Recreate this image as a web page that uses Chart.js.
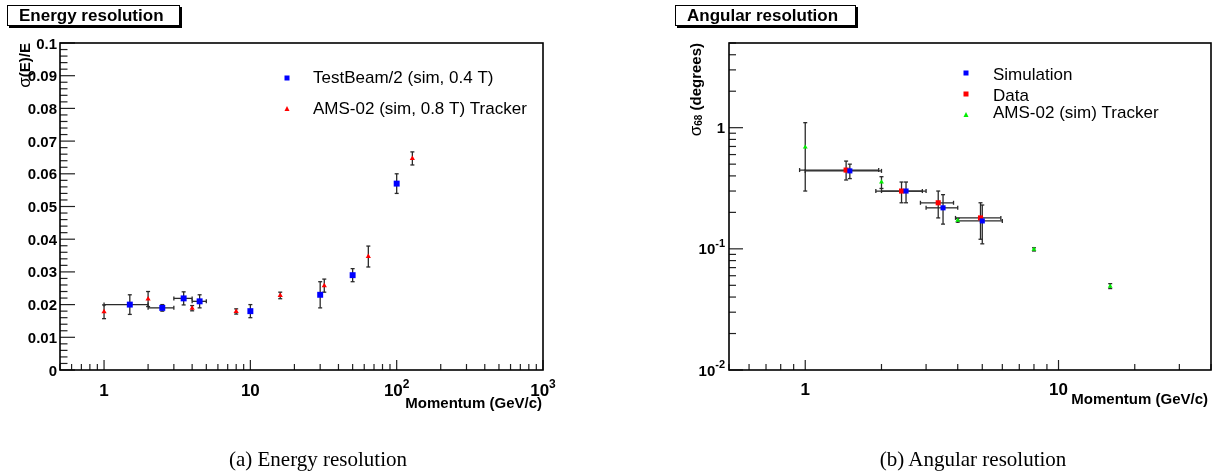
<!DOCTYPE html>
<html>
<head>
<meta charset="utf-8">
<script src="https://cdn.jsdelivr.net/npm/chart.js@4/dist/chart.umd.min.js"></script>
<style>
    body { margin: 0; background: #fff; width: 1215px; height: 474px; overflow: hidden; position: relative; }
    canvas { position: absolute; top: 0; }
    #energy-chart { left: 0; }
    #angular-chart { left: 607px; }
    .caption {
        position: absolute; top: 449px; line-height: 21px;
        font-family: 'Liberation Serif', 'Times New Roman', serif; font-size: 21px;
        color: #000; white-space: nowrap; transform: translateX(-50%);
    }
</style>
</head>
<body>
<canvas id="energy-chart" width="607" height="474"></canvas>
<canvas id="angular-chart" width="608" height="474"></canvas>
<div class="caption" style="left:318px">(a) Energy resolution</div>
<div class="caption" style="left:973px">(b) Angular resolution</div>
<script>
// Energy resolution: TestBeam/2 (sim, 0.4 T)
const energyTbX    = [1.5, 2.5, 3.5, 4.5, 10, 30, 50, 100];
const energyTbY    = [0.0200, 0.0190, 0.0219, 0.0210, 0.0180, 0.0230, 0.0290, 0.0570];
const energyTbErr  = [0.0030, 0.0010, 0.0020, 0.0020, 0.0020, 0.0040, 0.0020, 0.0030];
const energyTbXErr = [0.5, 0.5, 0.5, 0.5, 0, 0, 0, 0];

// Energy resolution: AMS-02 (sim, 0.8 T) Tracker
const energyAmsX   = [1, 2, 4, 8, 16, 32, 64, 128];
const energyAmsY   = [0.0178, 0.0217, 0.0189, 0.0179, 0.0228, 0.0258, 0.0347, 0.0647];
const energyAmsErr = [0.0021, 0.0023, 0.0008, 0.0008, 0.0010, 0.0020, 0.0032, 0.0020];

const energyXTicks  = [1, 10, 100, 1000];
const energyXLabels = ['1', '10', '10^2', '10^3'];
const energyYTicks  = [0, 0.01, 0.02, 0.03, 0.04, 0.05, 0.06, 0.07, 0.08, 0.09, 0.1];
const energyYLabels = ['0', '0.01', '0.02', '0.03', '0.04', '0.05', '0.06', '0.07', '0.08', '0.09', '0.1'];
const energyLegend  = ['TestBeam/2 (sim, 0.4 T)', 'AMS-02 (sim, 0.8 T) Tracker'];

// Angular resolution: Simulation
const angSimX    = [1.5, 2.5, 3.5, 5.0];
const angSimY    = [0.44, 0.30, 0.218, 0.17];
const angSimLo   = [0.38, 0.24, 0.16, 0.11];
const angSimHi   = [0.50, 0.356, 0.28, 0.23];
const angSimXErr = [0.5, 0.5, 0.5, 1.0];

// Angular resolution: Data
const angDataX    = [1.45, 2.4, 3.35, 4.92];
const angDataY    = [0.447, 0.30, 0.24, 0.18];
const angDataLo   = [0.37, 0.24, 0.18, 0.12];
const angDataHi   = [0.53, 0.356, 0.30, 0.24];
const angDataXErr = [0.5, 0.5, 0.5, 1.0];

// Angular resolution: AMS-02 (sim) Tracker
const angAmsX  = [1, 2, 4, 8, 16];
const angAmsY  = [0.69, 0.356, 0.172, 0.099, 0.049];
const angAmsLo = [0.30, 0.315, 0.166, 0.096, 0.047];
const angAmsHi = [1.10, 0.394, 0.178, 0.102, 0.0516];

const angXTicks  = [1, 10];
const angXLabels = ['1', '10'];
const angYTicks  = [0.01, 0.1, 1];
const angYLabels = ['10^-2', '10^-1', '1'];
const angLegend  = ['Simulation', 'Data', 'AMS-02 (sim) Tracker'];

const SANS = "'Liberation Sans', Arial, Helvetica, sans-serif";
const BLUE = '#0000ff', RED = '#ff0000', GREEN = '#00ee00';

const points = (xs, ys) => xs.map((x, i) => ({ x, y: ys[i] }));

function drawMarker(ctx, style, x, y, size, color) {
    ctx.fillStyle = color;
    if (style === 'rect') {
        ctx.fillRect(x - size / 2, y - size / 2, size, size);
    } else {
        ctx.beginPath();
        ctx.moveTo(x, y - size * 0.6);
        ctx.lineTo(x + size / 2, y + size * 0.4);
        ctx.lineTo(x - size / 2, y + size * 0.4);
        ctx.closePath();
        ctx.fill();
    }
}

// label like "10^2" -> 10 with superscript 2
function drawPowLabel(ctx, text, x, y, align, size) {
    const parts = text.split('^');
    const big = `bold ${size}px ${SANS}`;
    const small = `bold ${Math.round(size * 0.72)}px ${SANS}`;
    ctx.font = big;
    const wb = ctx.measureText(parts[0]).width;
    let ws = 0;
    if (parts[1]) { ctx.font = small; ws = ctx.measureText(parts[1]).width; }
    const total = wb + ws;
    const x0 = align === 'right' ? x - total : align === 'center' ? x - total / 2 : x;
    ctx.textAlign = 'left';
    ctx.textBaseline = 'alphabetic';
    ctx.fillStyle = '#000';
    ctx.font = big;
    ctx.fillText(parts[0], x0, y);
    if (parts[1]) {
        ctx.font = small;
        ctx.fillText(parts[1], x0 + wb, y - size * 0.47);
    }
}

function drawTitleBox(ctx, text, x, y, w, h) {
    ctx.fillStyle = '#000';
    ctx.fillRect(x + 2, y + 2, w, h);
    ctx.fillStyle = '#fff';
    ctx.fillRect(x, y, w, h);
    ctx.strokeStyle = '#000';
    ctx.lineWidth = 1;
    ctx.strokeRect(x + 0.5, y + 0.5, w - 1, h - 1);
    ctx.fillStyle = '#000';
    ctx.font = `bold 17px ${SANS}`;
    ctx.textAlign = 'left';
    ctx.textBaseline = 'alphabetic';
    ctx.fillText(text, x + 12, y + 16);
}

// runs of text drawn along a rotated y title, each {t, font, dy}
function drawRotated(ctx, runs, x, top) {
    ctx.save();
    ctx.translate(x, top);
    ctx.rotate(-Math.PI / 2);
    ctx.textAlign = 'left';
    ctx.textBaseline = 'alphabetic';
    ctx.fillStyle = '#000';
    let total = 0;
    runs.forEach(r => { ctx.font = r.font; total += ctx.measureText(r.t).width; });
    let cx = -total;
    runs.forEach(r => {
        ctx.font = r.font;
        ctx.fillText(r.t, cx, r.dy || 0);
        cx += ctx.measureText(r.t).width;
    });
    ctx.restore();
}

function makeDecor(panel) {
    return {
        id: 'decor',
        beforeDatasetsDraw(chart) {
            const ctx = chart.ctx, xs = chart.scales.x, ys = chart.scales.y;
            ctx.save();
            ctx.strokeStyle = '#2a2a2a';
            ctx.lineWidth = 1.3;
            const seg = (x1, y1, x2, y2) => { ctx.beginPath(); ctx.moveTo(x1, y1); ctx.lineTo(x2, y2); ctx.stroke(); };
            panel.errors.forEach(e => {
                e.x.forEach((xv, i) => {
                    const px = xs.getPixelForValue(xv);
                    const py = ys.getPixelForValue(e.y[i]);
                    const top = ys.getPixelForValue(e.hi[i]);
                    const bot = ys.getPixelForValue(e.lo[i]);
                    seg(px, top, px, bot);
                    seg(px - 2, top, px + 2, top);
                    seg(px - 2, bot, px + 2, bot);
                    if (e.xErr && e.xErr[i]) {
                        const l = xs.getPixelForValue(xv - e.xErr[i]);
                        const r = xs.getPixelForValue(xv + e.xErr[i]);
                        seg(l, py, r, py);
                        seg(l, py - 2, l, py + 2);
                        seg(r, py - 2, r, py + 2);
                    }
                });
            });
            ctx.restore();
        },
        afterDraw(chart) {
            const ctx = chart.ctx, xs = chart.scales.x, ys = chart.scales.y;
            const a = chart.chartArea;
            ctx.save();

            // ticks inside the frame
            ctx.strokeStyle = '#222';
            ctx.lineWidth = 1.2;
            const seg = (x1, y1, x2, y2) => { ctx.beginPath(); ctx.moveTo(x1, y1); ctx.lineTo(x2, y2); ctx.stroke(); };
            for (let d = -1; d <= 3; d++) {
                for (let k = 1; k <= 9; k++) {
                    const v = k * Math.pow(10, d);
                    if (v < xs.min - 1e-9 || v > xs.max + 1e-9) continue;
                    const px = xs.getPixelForValue(v);
                    seg(px, a.bottom, px, a.bottom - (k === 1 ? 10 : 6));
                }
            }
            if (panel.yLog) {
                for (let d = -2; d <= 0; d++) {
                    for (let k = 1; k <= 9; k++) {
                        const v = k * Math.pow(10, d);
                        if (v > ys.max + 1e-9) continue;
                        const py = ys.getPixelForValue(v);
                        seg(a.left, py, a.left + (k === 1 ? 14 : 7), py);
                    }
                }
            } else {
                for (let i = 0; i <= 50; i++) {
                    const py = ys.getPixelForValue(i * 0.002);
                    seg(a.left, py, a.left + (i % 5 === 0 ? 15 : 7.5), py);
                }
            }

            // frame
            ctx.strokeStyle = '#000';
            ctx.lineWidth = 1.6;
            ctx.strokeRect(a.left, a.top, a.right - a.left, a.bottom - a.top);

            // tick labels
            panel.xTicks.forEach((v, i) => {
                drawPowLabel(ctx, panel.xLabels[i], xs.getPixelForValue(v), panel.xLabelBase, 'center', 17);
            });
            panel.yTicks.forEach((v, i) => {
                drawPowLabel(ctx, panel.yLabels[i], panel.yLabelRight, ys.getPixelForValue(v) + 5.5, 'right', 15);
            });

            // axis titles
            ctx.font = `bold 15px ${SANS}`;
            ctx.textAlign = 'right';
            ctx.textBaseline = 'alphabetic';
            ctx.fillStyle = '#000';
            ctx.fillText('Momentum (GeV/c)', panel.xTitleRight, panel.xTitleBase);
            drawRotated(ctx, panel.yTitle, panel.yTitleX, a.top);

            // title box
            drawTitleBox(ctx, panel.title, panel.titleBox[0], panel.titleBox[1], panel.titleBox[2], panel.titleBox[3]);

            // legend
            panel.legend.forEach((txt, i) => {
                const it = panel.legendItems[i];
                drawMarker(ctx, it.style, panel.legendX, it.y, it.size, it.color);
                ctx.font = `17px ${SANS}`;
                ctx.textAlign = 'left';
                ctx.textBaseline = 'middle';
                ctx.fillStyle = '#000';
                ctx.fillText(txt, panel.legendTextX, it.ty);
            });
            ctx.restore();
        }
    };
}

function makeChart(id, panel) {
    return new Chart(document.getElementById(id), {
        type: 'scatter',
        data: { datasets: panel.datasets },
        options: {
            responsive: false,
            animation: false,
            events: [],
            layout: { padding: panel.padding, autoPadding: false },
            plugins: { legend: { display: false }, tooltip: { enabled: false } },
            scales: {
                x: { type: 'logarithmic', min: panel.xMin, max: panel.xMax, display: false },
                y: { type: panel.yLog ? 'logarithmic' : 'linear', min: panel.yMin, max: panel.yMax, display: false }
            }
        },
        plugins: [makeDecor(panel)]
    });
}

const energyPanel = {
    padding: { left: 60, top: 43, right: 64, bottom: 104 },
    xMin: 0.5, xMax: 1000, yMin: 0, yMax: 0.1, yLog: false,
    datasets: [
        { data: points(energyTbX, energyTbY), pointStyle: 'rect', pointRadius: 4.2, backgroundColor: BLUE, borderWidth: 0 },
        { data: points(energyAmsX, energyAmsY), pointStyle: 'triangle', pointRadius: 3, backgroundColor: RED, borderWidth: 0 }
    ],
    errors: [
        { x: energyTbX, y: energyTbY, lo: energyTbY.map((v, i) => v - energyTbErr[i]), hi: energyTbY.map((v, i) => v + energyTbErr[i]), xErr: energyTbXErr },
        { x: energyAmsX, y: energyAmsY, lo: energyAmsY.map((v, i) => v - energyAmsErr[i]), hi: energyAmsY.map((v, i) => v + energyAmsErr[i]) }
    ],
    xTicks: energyXTicks, xLabels: energyXLabels, xLabelBase: 396,
    yTicks: energyYTicks, yLabels: energyYLabels, yLabelRight: 57,
    xTitleRight: 542, xTitleBase: 408,
    yTitle: [{ t: 'σ', font: `17px ${SANS}` }, { t: '(E)/E', font: `bold 15px ${SANS}` }],
    yTitleX: 30,
    title: 'Energy resolution', titleBox: [7, 5, 173, 21],
    legend: energyLegend, legendX: 287, legendTextX: 313,
    legendItems: [
        { style: 'rect', y: 78, ty: 78, size: 5, color: BLUE },
        { style: 'tri', y: 109, ty: 109, size: 5, color: RED }
    ]
};

const angularPanel = {
    padding: { left: 122, top: 43, right: 4, bottom: 104 },
    xMin: 0.5, xMax: 40, yMin: 0.01, yMax: 5, yLog: true,
    datasets: [
        { data: points(angSimX, angSimY), pointStyle: 'rect', pointRadius: 3.6, backgroundColor: BLUE, borderWidth: 0 },
        { data: points(angDataX, angDataY), pointStyle: 'rect', pointRadius: 3.6, backgroundColor: RED, borderWidth: 0 },
        { data: points(angAmsX, angAmsY), pointStyle: 'triangle', pointRadius: 2.8, backgroundColor: GREEN, borderWidth: 0 }
    ],
    errors: [
        { x: angAmsX, y: angAmsY, lo: angAmsLo, hi: angAmsHi },
        { x: angDataX, y: angDataY, lo: angDataLo, hi: angDataHi, xErr: angDataXErr },
        { x: angSimX, y: angSimY, lo: angSimLo, hi: angSimHi, xErr: angSimXErr }
    ],
    xTicks: angXTicks, xLabels: angXLabels, xLabelBase: 395,
    yTicks: angYTicks, yLabels: angYLabels, yLabelRight: 118,
    xTitleRight: 601, xTitleBase: 404,
    yTitle: [{ t: 'σ', font: `17px ${SANS}` }, { t: '68', font: `bold 10px ${SANS}`, dy: 1 }, { t: ' (degrees)', font: `bold 15px ${SANS}` }],
    yTitleX: 94,
    title: 'Angular resolution', titleBox: [68, 5, 181, 21],
    legend: angLegend, legendX: 359, legendTextX: 386,
    legendItems: [
        { style: 'rect', y: 73, ty: 75, size: 5, color: BLUE },
        { style: 'rect', y: 94, ty: 96, size: 5, color: RED },
        { style: 'tri', y: 115, ty: 113, size: 5, color: GREEN }
    ]
};

makeChart('energy-chart', energyPanel);
makeChart('angular-chart', angularPanel);
</script>
</body>
</html>
